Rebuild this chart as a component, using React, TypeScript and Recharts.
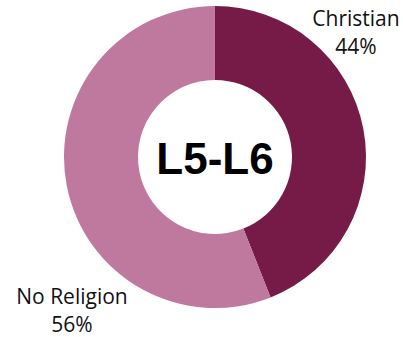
import React from 'react';
import { PieChart, Pie, Cell } from 'recharts';

const categories = ['Christian', 'No Religion'];
const shares = [44, 56];
const sliceColors = ['#761B47', '#C0799E'];

// where each label block sits, relative to the pie centre
const labelOffsets = [
  { dx: 141, dy: -131 },
  { dx: -143, dy: 147 },
];

const chartData = categories.map((name, i) => ({ name, value: shares[i] }));

const renderLabel = (props: any) => {
  const { cx, cy, index, payload } = props;
  const off = labelOffsets[index];
  const x = cx + off.dx;
  const y = cy + off.dy;
  return (
    <text
      x={x}
      y={y}
      textAnchor="middle"
      fill="#111"
      fontFamily="'Open Sans', sans-serif"
      fontSize={21}
    >
      <tspan x={x} dy={0}>{payload.name}</tspan>
      <tspan x={x} dy={28}>{`${payload.value}%`}</tspan>
    </text>
  );
};

const App: React.FC = () => {
  return (
    <div style={{ position: 'absolute', left: 0, top: 0, width: 403, height: 337, background: '#fff' }}>
      <PieChart width={403} height={337} margin={{ top: 0, right: 0, bottom: 0, left: 0 }}>
        <Pie
          data={chartData}
          dataKey="value"
          nameKey="name"
          cx={215}
          cy={157}
          innerRadius={77}
          outerRadius={151}
          startAngle={90}
          endAngle={-270}
          stroke="none"
          label={renderLabel}
          labelLine={false}
          isAnimationActive={false}
        >
          {chartData.map((d, i) => (
            <Cell key={d.name} fill={sliceColors[i]} />
          ))}
        </Pie>
        <text
          x={215}
          y={174}
          textAnchor="middle"
          fontFamily="'Liberation Sans', Arial, sans-serif"
          fontWeight="bold"
          fontSize={44}
          fill="#000"
        >
          L5-L6
        </text>
      </PieChart>
    </div>
  );
};

export default App;
